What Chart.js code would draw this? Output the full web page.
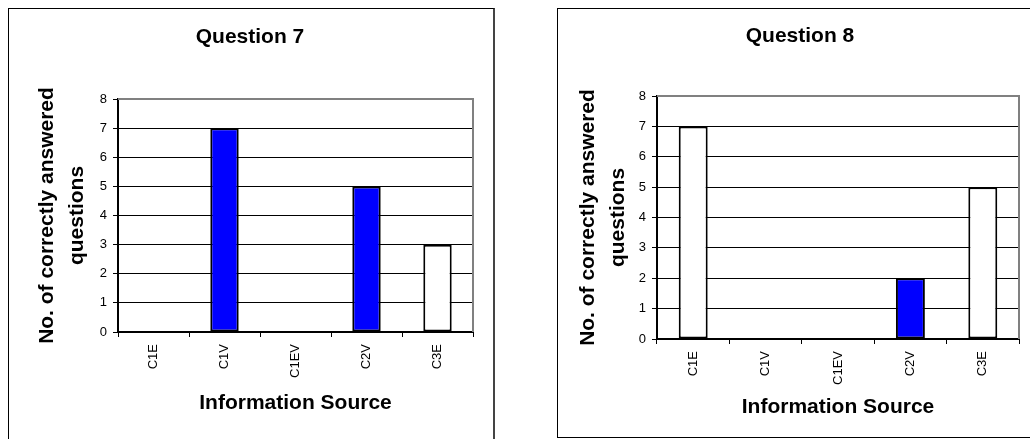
<!DOCTYPE html>
<html lang="en">
<head>
    <meta charset="UTF-8">
    <title>Question 7 / Question 8</title>
    <script src="https://cdn.jsdelivr.net/npm/chart.js"></script>
    <style>
        body {
            margin: 0;
            width: 1030px;
            height: 439px;
            overflow: hidden;
            position: relative;
            background: #fff;
        }
        .box {
            position: absolute;
            box-sizing: border-box;
        }
        #box7 {
            left: 8px; top: 8px; width: 487px; height: 460px;
            border-left: 1px solid #000;
            border-top: 1px solid #000;
            border-right: 2px solid #444;
        }
        #box8 {
            left: 557px; top: 8px; width: 500px; height: 430px;
            border: 1px solid #000;
            border-right: none;
        }
        canvas { position: absolute; }
        #chart7 { left: 9px; top: 9px; }
        #chart8 { left: 558px; top: 9px; }
    </style>
</head>
<body>

    <div class="box" id="box7"></div>
    <div class="box" id="box8"></div>
    <canvas id="chart7" width="484" height="430"></canvas>
    <canvas id="chart8" width="484" height="428"></canvas>

    <script>
        // data
        const categories = ["C1E", "C1V", "C1EV", "C2V", "C3E"];
        const q7Values = [0, 7, 0, 5, 3];
        const q8Values = [7, 0, 0, 2, 5];
        const yMax = 8;

        const barColors = ["#FFFFFF", "#0000FF", "#0000FF", "#0000FF", "#FFFFFF"];
        const FONT = "'Liberation Sans', Arial, sans-serif";

        // gray frame on top and right of the plot area
        const plotFrame = {
            id: "plotFrame",
            afterDraw(chart) {
                const a = chart.chartArea;
                const ctx = chart.ctx;
                ctx.save();
                ctx.strokeStyle = "#808080";
                ctx.lineWidth = 2;
                ctx.beginPath();
                ctx.moveTo(a.left, a.top);
                ctx.lineTo(a.right, a.top);
                ctx.lineTo(a.right, a.bottom);
                ctx.stroke();
                ctx.restore();
            }
        };

        function makeChart(id, title, values, lay) {
            return new Chart(document.getElementById(id), {
                type: "bar",
                data: {
                    labels: categories,
                    datasets: [{
                        data: values,
                        backgroundColor: barColors,
                        borderColor: "#000",
                        borderWidth: 2,
                        borderSkipped: false,
                        barPercentage: 0.4,
                        categoryPercentage: 1
                    }]
                },
                options: {
                    responsive: false,
                    animation: false,
                    layout: { padding: { left: lay.left, top: 0, right: lay.right, bottom: 0 } },
                    plugins: {
                        legend: { display: false },
                        tooltip: { enabled: false },
                        title: {
                            display: true,
                            text: title,
                            color: "#000",
                            font: { family: FONT, size: 21, weight: "bold", lineHeight: 1.2 },
                            padding: { top: lay.titleTop, bottom: lay.titleBottom }
                        }
                    },
                    scales: {
                        x: {
                            afterFit(scale) { scale.height = lay.xHeight; },
                            grid: {
                                drawOnChartArea: false,
                                drawTicks: true,
                                tickLength: 5,
                                color: "#000",
                                lineWidth: 1
                            },
                            border: { display: true, color: "#000", width: 2 },
                            ticks: {
                                color: "#000",
                                font: { family: FONT, size: 13 },
                                minRotation: 90,
                                maxRotation: 90,
                                autoSkip: false,
                                padding: 7
                            },
                            title: {
                                display: true,
                                text: "Information Source",
                                color: "#000",
                                font: { family: FONT, size: 21, weight: "bold", lineHeight: 1.2 },
                                padding: { top: 0, bottom: lay.xTitleBottom }
                            }
                        },
                        y: {
                            min: 0,
                            max: yMax,
                            afterFit(scale) { scale.width = lay.yWidth; },
                            grid: {
                                color: ctx => (ctx.tick && ctx.tick.value === yMax) ? "#808080" : "#000",
                                tickColor: "#000",
                                lineWidth: 1,
                                tickLength: 5
                            },
                            border: { display: true, color: "#000", width: 2 },
                            ticks: {
                                stepSize: 1,
                                color: "#000",
                                font: { family: FONT, size: 13 },
                                padding: 6
                            },
                            title: {
                                display: true,
                                text: ["No. of correctly answered", "questions"],
                                color: "#000",
                                font: { family: FONT, size: 21, weight: "bold", lineHeight: 1.43 },
                                padding: { top: lay.yTitleTop, bottom: 0 }
                            }
                        }
                    }
                },
                plugins: [plotFrame]
            });
        }

        makeChart("chart7", "Question 7", q7Values, {
            left: 18, right: 20, titleTop: 15.4, titleBottom: 49.4,
            xHeight: 107, xTitleBottom: 23.4, yWidth: 91, yTitleTop: 5
        });

        makeChart("chart8", "Question 8", q8Values, {
            left: 23, right: 23, titleTop: 14.4, titleBottom: 47.4,
            xHeight: 98, xTitleBottom: 17.4, yWidth: 76, yTitleTop: -8
        });
    </script>

</body>
</html>
